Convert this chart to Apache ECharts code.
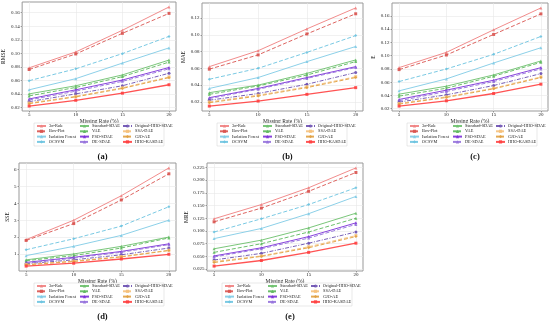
<!DOCTYPE html>
<html><head><meta charset="utf-8">
<script src="https://cdn.jsdelivr.net/npm/echarts@6/dist/echarts.min.js"></script>
<style>html,body{margin:0;padding:0;background:#fff}#c{width:550px;height:325px}</style>
</head><body><div id="c"></div>
<script>
const missingRates = [5, 10, 15, 20];
const methodNames = ['3σ-Rule','Box-Plot','Isolation Forest','OCSVM','Standard-SDAE','VAE','PSO-SDAE','DE-SDAE','Original-HHO-SDAE','SSA-DAE','GJO-AE','HHO-KASDAE'];

const rmseValues = [
  [0.0785,0.102,0.134,0.1685],[0.076,0.099,0.1295,0.159],[0.046,0.0625,0.0855,0.108],[0.0595,0.077,0.0995,0.125],
  [0.040,0.052,0.068,0.090],[0.037,0.0495,0.0655,0.087],[0.0325,0.046,0.0605,0.079],[0.031,0.044,0.0585,0.077],
  [0.0285,0.040,0.052,0.0705],[0.0265,0.0365,0.049,0.065],[0.0255,0.0355,0.048,0.064],[0.022,0.0305,0.041,0.0535]];
const maeValues = [
  [0.062,0.081,0.107,0.132],[0.059,0.076,0.101,0.125],[0.036,0.049,0.068,0.086],[0.047,0.060,0.079,0.099],
  [0.031,0.040,0.054,0.070],[0.029,0.039,0.052,0.068],[0.025,0.036,0.049,0.062],[0.024,0.035,0.048,0.061],
  [0.022,0.030,0.041,0.055],[0.020,0.028,0.038,0.050],[0.019,0.027,0.037,0.049],[0.015,0.021,0.029,0.037]];
const eValues = [
  [0.082,0.105,0.139,0.172],[0.079,0.101,0.132,0.163],[0.047,0.065,0.089,0.112],[0.061,0.080,0.102,0.129],
  [0.042,0.054,0.071,0.092],[0.039,0.051,0.069,0.090],[0.034,0.048,0.063,0.082],[0.032,0.046,0.061,0.080],
  [0.030,0.041,0.055,0.073],[0.028,0.038,0.051,0.068],[0.027,0.037,0.050,0.067],[0.024,0.032,0.043,0.057]];
const sseValues = [
  [1.85,3.0,4.45,6.1],[1.8,2.8,4.2,5.75],[0.9,1.45,2.1,3.0],[1.25,1.9,2.65,3.8],
  [0.65,1.0,1.45,2.0],[0.6,0.9,1.35,1.95],[0.5,0.8,1.15,1.6],[0.45,0.75,1.1,1.55],
  [0.42,0.65,0.95,1.35],[0.38,0.58,0.85,1.22],[0.35,0.55,0.82,1.2],[0.28,0.45,0.7,0.98]];
const mreValues = [
  [0.124,0.152,0.185,0.224],[0.118,0.145,0.178,0.215],[0.085,0.105,0.134,0.168],[0.098,0.124,0.152,0.185],
  [0.065,0.082,0.106,0.135],[0.058,0.075,0.098,0.125],[0.051,0.067,0.089,0.116],[0.049,0.065,0.086,0.113],
  [0.043,0.056,0.076,0.098],[0.040,0.051,0.069,0.091],[0.038,0.050,0.067,0.089],[0.031,0.042,0.058,0.076]];

const rmseTicks = [0.02,0.04,0.06,0.08,0.10,0.12,0.14,0.16];
const maeTicks = [0.02,0.04,0.06,0.08,0.10,0.12];
const eTicks = [0.02,0.04,0.06,0.08,0.10,0.12,0.14,0.16];
const sseTicks = [1,2,3,4,5,6];
const mreTicks = [0.025,0.050,0.075,0.100,0.125,0.150,0.175,0.200,0.225];
const xTicks = [5,10,15,20];

const panelNames = ['RMSE','MAE','E','SSE','MRE'];
const panelLabels = ['(a)','(b)','(c)','(d)','(e)'];
const panelData = [rmseValues, maeValues, eValues, sseValues, mreValues];
const panelTicks = [rmseTicks, maeTicks, eTicks, sseTicks, mreTicks];
const tickDecimals = [2,2,2,0,3];

// layout (styles)
const frames = [[19,2,176,111],[202,3,363,111],[392,3,548,111],[19,163,176,271],[207,163,363,271]];
const colors = ['#F08080','#D9534F','#7FCBE6','#6CC3E0','#6CC06C','#5CB85C','#7B2FD8','#9370DB','#6A4FB0','#F5C07A','#E0A040','#FF4040'];
const lineTypes = ['solid','dashed','solid','dashed','solid','dashed','solid','dashed',[4,1.5,1,1.5],'dashed','dashed','solid'];
const symbols = ['triangle','rect','triangle','diamond','triangle','triangle','triangle','triangle','circle','rect','diamond','rect'];
const FONT = 'Liberation Serif';

const grids=[], xAxes=[], yAxes=[], series=[], legends=[], titles=[], graphics=[];
frames.forEach((f,p)=>{
  const [l,t,r,b]=f;
  grids.push({left:l, top:t, width:r-l, height:b-t, show:true, borderColor:'#999', borderWidth:1, containLabel:false});
  xAxes.push({type:'value', gridIndex:p, min:4.25, max:20.75,
    name:'Missing Rate (%)', nameLocation:'middle', nameGap:4,
    nameTextStyle:{fontFamily:FONT, fontSize:5.5, color:'#222', verticalAlign:'top'},
    axisLine:{show:false},
    axisTick:{show:true, length:1.5, lineStyle:{color:'#666',width:0.6}, customValues:xTicks},
    axisLabel:{fontFamily:FONT, fontSize:5, color:'#222', margin:1.5, customValues:xTicks},
    splitLine:{show:true, lineStyle:{color:'#e8e8e8', width:0.6}}});
  const vals = panelData[p].flat();
  const mn=Math.min(...vals), mx=Math.max(...vals), rg=mx-mn;
  yAxes.push({type:'value', gridIndex:p, min:mn-0.05*rg, max:mx+0.05*rg,
    name:panelNames[p], nameLocation:'middle', nameRotate:90, nameGap: (p===4?16:(p===3?8:13)),
    nameTextStyle:{fontFamily:FONT, fontSize:5.5, color:'#222'},
    axisLine:{show:false},
    axisTick:{show:true, length:1.5, lineStyle:{color:'#666',width:0.6}, customValues:panelTicks[p]},
    axisLabel:{fontFamily:FONT, fontSize:5, color:'#222', margin:2.5, customValues:panelTicks[p],
      formatter:(v)=>Number(v).toFixed(tickDecimals[p])},
    splitLine:{show:true, lineStyle:{color:'#e8e8e8', width:0.6}}});
  methodNames.forEach((nm,i)=>{
    series.push({type:'line', name:nm, xAxisIndex:p, yAxisIndex:p,
      data: missingRates.map((x,j)=>[x, panelData[p][i][j]]),
      symbol:symbols[i], symbolSize:3, showSymbol:true, animation:false,
      lineStyle:{color:colors[i], width: i===11?1.3:1, type:lineTypes[i], opacity:0.9},
      itemStyle:{color:colors[i], opacity:0.9}, z: 2+i});
  });
  const bx=l+15, by=b+12;
  graphics.push({type:'rect', shape:{x:bx, y:by, width:130, height:23}, style:{fill:'#fff', stroke:'#d0d0d0', lineWidth:0.5}, z:5});
  [0,1,2].forEach(c=>{
    legends.push({orient:'vertical', left:bx+2+c*43, top:by+1, itemWidth:9, itemHeight:4, itemGap:1.3, padding:0,
      data:methodNames.slice(c*4,c*4+4), selectedMode:false,
      textStyle:{fontFamily:FONT, fontSize:4.3, color:'#222', padding:[0,0,0,-2]}, z:10});
  });
  titles.push({text:panelLabels[p], left:(l+r)/2, top:b+36, textAlign:'center',
    textStyle:{fontFamily:FONT, fontSize:8.5, fontWeight:'bold', color:'#111'}});
});

const chart = echarts.init(document.getElementById('c'), null, {renderer:'canvas'});
chart.setOption({animation:false, backgroundColor:'#fff', grid:grids, xAxis:xAxes, yAxis:yAxes, series, legend:legends, title:titles, graphic:graphics});
</script></body></html>
